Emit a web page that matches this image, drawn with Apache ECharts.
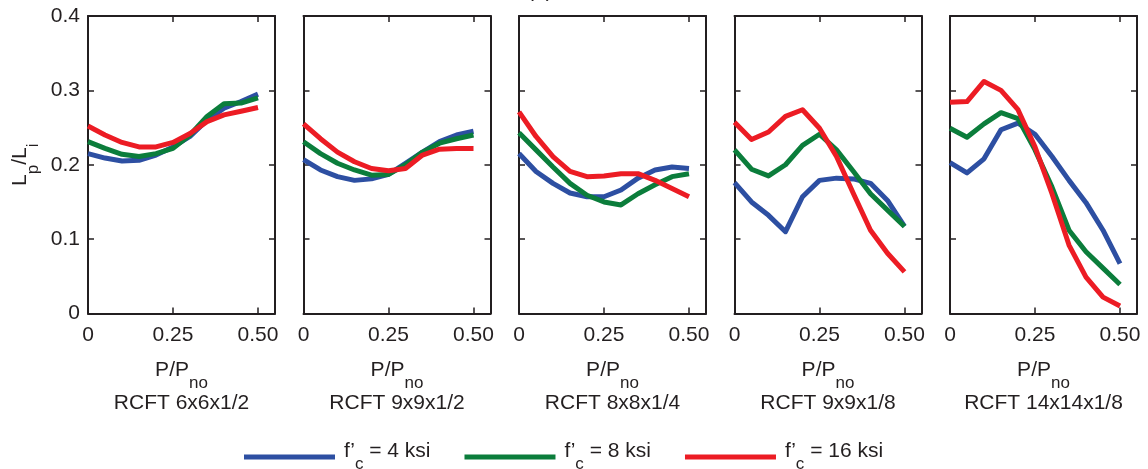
<!DOCTYPE html>
<html>
<head>
<meta charset="utf-8">
<script src="https://cdn.jsdelivr.net/npm/echarts@6/dist/echarts.min.js"></script>
<style>
  html, body { margin: 0; padding: 0; background: #ffffff; }
  #chart { width: 1148px; height: 469px; }
</style>
</head>
<body>
<div id="chart"></div>
<script>
// Axial load ratio P/Pno at which each point was evaluated
const loadRatio = [0, 0.05, 0.10, 0.15, 0.20, 0.25, 0.30, 0.35, 0.40, 0.45, 0.50];

// Cross sections, one panel each
const sections = ['RCFT 6x6x1/2', 'RCFT 9x9x1/2', 'RCFT 8x8x1/4', 'RCFT 9x9x1/8', 'RCFT 14x14x1/8'];

// Concrete strengths (legend entries)
const strengths = ['4 ksi', '8 ksi', '16 ksi'];

// Lp/Li for f'c = 4 ksi, one row per section
const fc4 = [
  [0.215, 0.209, 0.205, 0.206, 0.213, 0.224, 0.238, 0.260, 0.276, 0.285, 0.295],
  [0.207, 0.193, 0.184, 0.179, 0.181, 0.187, 0.202, 0.217, 0.231, 0.240, 0.245],
  [0.215, 0.191, 0.175, 0.162, 0.157, 0.157, 0.166, 0.182, 0.193, 0.197, 0.195],
  [0.176, 0.150, 0.132, 0.110, 0.157, 0.179, 0.182, 0.181, 0.175, 0.152, 0.117],
  [0.203, 0.189, 0.208, 0.247, 0.256, 0.241, 0.211, 0.179, 0.149, 0.112, 0.067]
];

// Lp/Li for f'c = 8 ksi
const fc8 = [
  [0.231, 0.222, 0.214, 0.211, 0.215, 0.222, 0.240, 0.265, 0.282, 0.283, 0.290],
  [0.231, 0.215, 0.202, 0.193, 0.186, 0.187, 0.200, 0.217, 0.229, 0.235, 0.240],
  [0.243, 0.220, 0.197, 0.175, 0.159, 0.150, 0.146, 0.161, 0.173, 0.184, 0.188],
  [0.220, 0.194, 0.185, 0.200, 0.226, 0.241, 0.220, 0.191, 0.161, 0.139, 0.117],
  [0.249, 0.237, 0.255, 0.270, 0.262, 0.220, 0.170, 0.112, 0.083, 0.061, 0.039]
];

// Lp/Li for f'c = 16 ksi
const fc16 = [
  [0.252, 0.240, 0.230, 0.224, 0.224, 0.230, 0.242, 0.258, 0.267, 0.272, 0.277],
  [0.255, 0.235, 0.217, 0.204, 0.195, 0.192, 0.195, 0.213, 0.221, 0.222, 0.222],
  [0.271, 0.238, 0.211, 0.191, 0.184, 0.185, 0.188, 0.188, 0.179, 0.168, 0.157],
  [0.257, 0.234, 0.244, 0.265, 0.274, 0.249, 0.211, 0.161, 0.112, 0.081, 0.056],
  [0.284, 0.285, 0.312, 0.300, 0.274, 0.224, 0.161, 0.092, 0.049, 0.022, 0.010]
];

const yTicks = [0, 0.1, 0.2, 0.3, 0.4];
const xTicks = [0, 0.25, 0.50];

const FONT = 'Liberation Sans, Arial, Helvetica, sans-serif';
const FS = 21;      // main text size
const SUB = 17;     // subscript size
const INK = '#231f20';
const COLORS = ['#2d4fa2', '#0b7d3b', '#ec1c24'];

const PANEL_LEFT = 88, PANEL_STEP = 215.5, PANEL_W = 187, PANEL_TOP = 16, PANEL_H = 297.5;

// rich-text styles: main text sits at the top of a 32px line, subscript at its bottom
const richSub = {
  m: { fontSize: FS, fontFamily: FONT, color: INK, lineHeight: 24, verticalAlign: 'top' },
  s: { fontSize: SUB, fontFamily: FONT, color: INK, lineHeight: 32, verticalAlign: 'bottom' }
};

const grids = [], xAxes = [], yAxes = [], series = [];
const frameLine = { show: true, onZero: false, lineStyle: { color: INK, width: 2 } };
const inTick = { show: true, inside: true, length: 6, lineStyle: { color: INK, width: 1.5 } };

sections.forEach((sec, i) => {
  grids.push({ left: PANEL_LEFT + i * PANEL_STEP, top: PANEL_TOP, width: PANEL_W, height: PANEL_H });

  // bottom axis with tick labels and the two-line caption
  xAxes.push({
    type: 'value', gridIndex: i, position: 'bottom', min: 0, max: 0.55, interval: 0.25,
    axisLine: frameLine, axisTick: inTick, splitLine: { show: false },
    axisLabel: {
      show: true, margin: 11, fontSize: FS, fontFamily: FONT, color: INK, showMaxLabel: false,
      formatter: v => (v === 0 ? '0' : (xTicks.includes(v) ? v.toFixed(2) : ''))
    },
    name: '{m|P/P}{s|no}\n{r|' + sec + '}',
    nameLocation: 'middle', nameGap: 46,
    nameTextStyle: {
      fontFamily: FONT, color: INK,
      rich: Object.assign({}, richSub, {
        r: { fontSize: FS, fontFamily: FONT, color: INK, lineHeight: 24 }
      })
    }
  });
  // top edge of the frame
  xAxes.push({
    type: 'value', gridIndex: i, position: 'top', min: 0, max: 0.55, interval: 0.25,
    axisLine: frameLine, axisTick: inTick, axisLabel: { show: false }, splitLine: { show: false }
  });

  const yLeft = {
    type: 'value', gridIndex: i, position: 'left', min: 0, max: 0.4, interval: 0.1,
    axisLine: frameLine, axisTick: inTick, splitLine: { show: false },
    axisLabel: {
      show: i === 0, margin: 8, fontSize: FS, fontFamily: FONT, color: INK,
      formatter: v => (v === 0 ? '0' : v.toFixed(1))
    }
  };
  if (i === 0) {
    yLeft.name = '{m|L}{s|p}{m|/L}{s|i}';
    yLeft.nameLocation = 'middle';
    yLeft.nameRotate = 90;
    yLeft.nameGap = 46.5;
    yLeft.nameTextStyle = { fontFamily: FONT, color: INK, rich: richSub };
  }
  yAxes.push(yLeft);
  // right edge of the frame
  yAxes.push({
    type: 'value', gridIndex: i, position: 'right', min: 0, max: 0.4, interval: 0.1,
    axisLine: frameLine, axisTick: inTick, axisLabel: { show: false }, splitLine: { show: false }
  });

  [fc4, fc8, fc16].forEach((set, k) => {
    series.push({
      name: strengths[k],
      type: 'line',
      xAxisIndex: 2 * i,
      yAxisIndex: 2 * i,
      data: loadRatio.map((x, j) => [x, set[i][j]]),
      showSymbol: false,
      symbol: 'none',
      silent: true,
      animation: false,
      lineStyle: { color: COLORS[k], width: 5, join: 'round', cap: 'butt' },
      itemStyle: { color: COLORS[k] }
    });
  });
});

// Legend: swatch + "f'c = ... ksi"
const legends = [{
  data: strengths,
  left: 244,
  top: 441,
  orient: 'horizontal',
  padding: 0,
  icon: 'rect',
  itemWidth: 91,
  itemHeight: 5,
  itemGap: 34,
  selectedMode: false,
  formatter: n => '{m|f’}{s|c}{m| = ' + n + '}',
  textStyle: { fontFamily: FONT, color: INK, padding: [0, 0, 0, 4], rich: richSub }
}];

const chart = echarts.init(document.getElementById('chart'), null, { renderer: 'canvas' });
chart.setOption({
  backgroundColor: '#ffffff',
  animation: false,
  grid: grids,
  xAxis: xAxes,
  yAxis: yAxes,
  legend: legends,
  graphic: [{
    type: 'text', left: 527, top: -19,
    style: { text: '(a)', font: FS + 'px ' + FONT, fill: INK }
  }],
  series: series
});
</script>
</body>
</html>
